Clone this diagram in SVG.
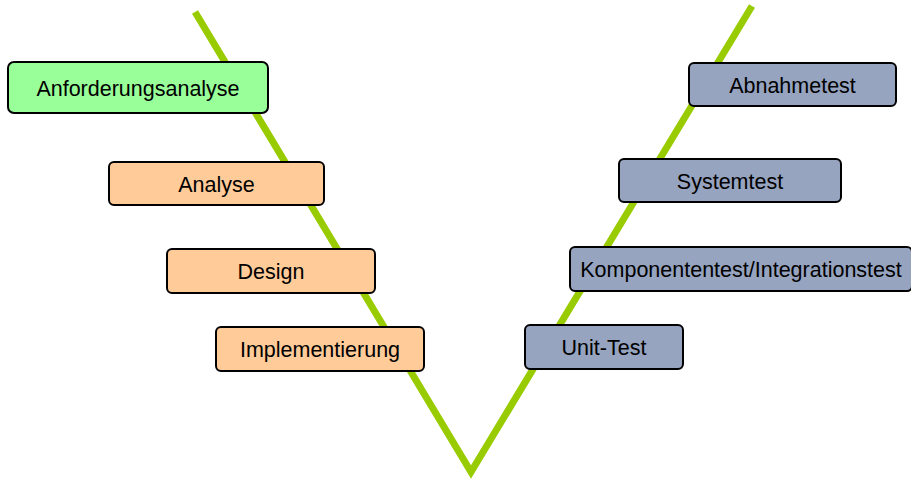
<svg xmlns="http://www.w3.org/2000/svg" width="911" height="479" viewBox="0 0 911 479">
  <style>
    .box { stroke: #000; stroke-width: 2; }
    .spec { fill: #ffcc99; }
    .req { fill: #99ff99; }
    .test { fill: #96a4bf; }
    .lbl { font-family: "Liberation Sans", Arial, sans-serif; font-size: 21.5px; fill: #000; text-anchor: middle; }
    .vline { fill: none; stroke: #99cc00; stroke-width: 7; stroke-linejoin: miter; stroke-linecap: butt; }
  </style>
  <rect width="911" height="479" fill="#fff"/>
  <g id="connectors">
    <polyline class="vline" points="195,12 471,472 752,6"/>
  </g>
  <g id="anforderungsanalyse">
    <rect class="box req" x="8" y="62" width="260" height="51" rx="6"/>
    <text class="lbl" x="138" y="96">Anforderungsanalyse</text>
  </g>
  <g id="analyse">
    <rect class="box spec" x="109" y="162" width="215" height="43" rx="5"/>
    <text class="lbl" x="216.5" y="191.5">Analyse</text>
  </g>
  <g id="design">
    <rect class="box spec" x="167" y="249" width="208" height="44" rx="5"/>
    <text class="lbl" x="271" y="278.5">Design</text>
  </g>
  <g id="implementierung">
    <rect class="box spec" x="216" y="327" width="208" height="44" rx="5"/>
    <text class="lbl" x="320" y="356.5">Implementierung</text>
  </g>
  <g id="unit-test">
    <rect class="box test" x="525" y="325" width="158" height="44" rx="5"/>
    <text class="lbl" x="604" y="354.5">Unit-Test</text>
  </g>
  <g id="komponententest">
    <rect class="box test" x="570" y="247" width="342" height="44" rx="5"/>
    <text class="lbl" x="741" y="276.5">Komponententest/Integrationstest</text>
  </g>
  <g id="systemtest">
    <rect class="box test" x="619" y="159" width="222" height="43" rx="5"/>
    <text class="lbl" x="730" y="188.5">Systemtest</text>
  </g>
  <g id="abnahmetest">
    <rect class="box test" x="689" y="63" width="207" height="43" rx="5"/>
    <text class="lbl" x="792.5" y="92.5">Abnahmetest</text>
  </g>
</svg>
